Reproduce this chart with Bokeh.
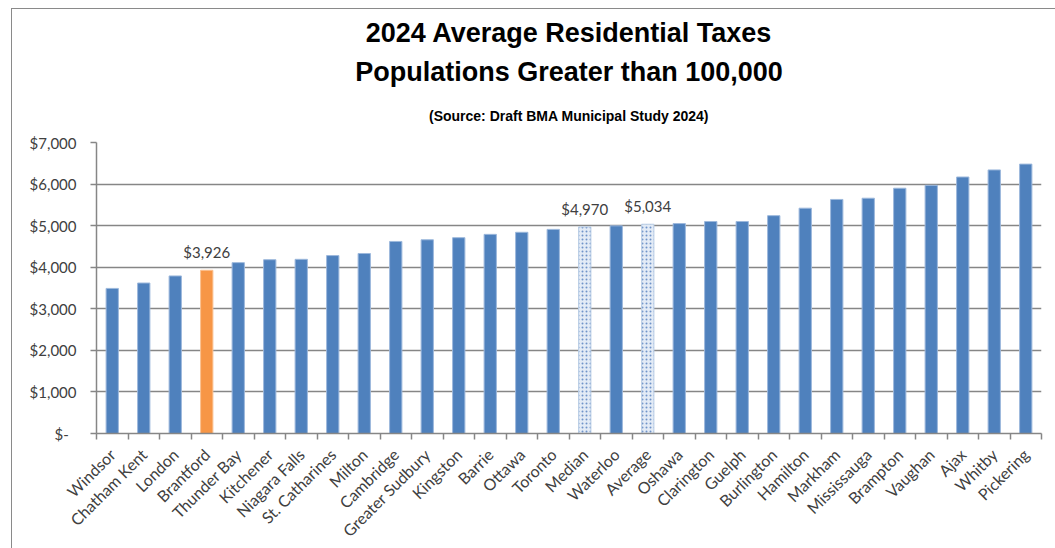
import math
from bokeh.plotting import figure
from bokeh.models import (ColumnDataSource, Range1d, LinearAxis, FixedTicker,
                          NumeralTickFormatter, Title)
from bokeh.embed import file_html
from bokeh.resources import INLINE

# ---- data ----
cities = ["Windsor", "Chatham Kent", "London", "Brantford", "Thunder Bay", "Kitchener",
          "Niagara Falls", "St. Catharines", "Milton", "Cambridge", "Greater Sudbury",
          "Kingston", "Barrie", "Ottawa", "Toronto", "Median", "Waterloo", "Average",
          "Oshawa", "Clarington", "Guelph", "Burlington", "Hamilton", "Markham",
          "Mississauga", "Brampton", "Vaughan", "Ajax", "Whitby", "Pickering"]
taxes = [3490, 3620, 3790, 3926, 4110, 4180, 4190, 4280, 4330, 4620, 4660,
         4710, 4790, 4840, 4910, 4970, 4995, 5034,
         5050, 5100, 5100, 5240, 5420, 5630,
         5660, 5900, 5970, 6170, 6340, 6480]
highlight = ["Brantford"]
benchmarks = ["Median", "Average"]
labelled = ["Brantford", "Median", "Average"]
y_ticks = [0, 1000, 2000, 3000, 4000, 5000, 6000, 7000]

title1 = "2024 Average Residential Taxes"
title2 = "Populations Greater than 100,000"
title3 = "(Source: Draft BMA Municipal Study 2024)"

TITLE_FONT = "Liberation Sans"
LABEL_FONT = "Lato"
GRID = "#868686"
TXT = "#404040"

n = len(cities)
centers = [i + 0.5 for i in range(n)]

def subset(names):
    xs = [x for x, c in zip(centers, cities) if c in names]
    ys = [t for c, t in zip(cities, taxes) if c in names]
    return ColumnDataSource(dict(x=xs, top=ys))

normal = [c for c in cities if c not in highlight and c not in benchmarks]

p = figure(width=1044, height=540, x_range=Range1d(0, n), y_range=Range1d(0, 7000),
           output_backend="svg", toolbar_location=None, title=None,
           min_border_left=84, min_border_right=15, min_border_bottom=114, min_border_top=0,
           margin=(8, 0, 0, 11))
p.styles = {"border-left": "1.5px solid #8a8a8a", "border-top": "1.5px solid #8a8a8a"}
p.outline_line_color = None
p.background_fill_color = "white"
p.border_fill_color = "white"

# titles (first added = closest to plot)
p.add_layout(Title(text=title3, align="center", text_font=TITLE_FONT, text_font_size="14px",
                   text_font_style="bold", text_color="black", standoff=38), "above")
p.add_layout(Title(text=title2, align="center", text_font=TITLE_FONT, text_font_size="27px",
                   text_font_style="bold", text_color="black", standoff=0), "above")
p.add_layout(Title(text=title1, align="center", text_font=TITLE_FONT, text_font_size="27px",
                   text_font_style="bold", text_color="black", standoff=13), "above")

# bars
p.vbar(x="x", top="top", source=subset(normal), width=0.39, fill_color="#4F81BD",
       line_color="#9cb8dc", line_width=1)
p.vbar(x="x", top="top", source=subset(highlight), width=0.39, fill_color="#F79646",
       line_color="#fbc08f", line_width=1)
p.vbar(x="x", top="top", source=subset(benchmarks), width=0.39, fill_color="#e3ebf6",
       hatch_pattern="dot", hatch_color="#6f93c8", hatch_scale=4, hatch_weight=1.5,
       line_color="#b9cde5", line_width=1)

# data labels
lab_x = [x for x, c in zip(centers, cities) if c in labelled]
lab_y = [t for c, t in zip(cities, taxes) if c in labelled]
lab_src = ColumnDataSource(dict(x=lab_x, y=lab_y, t=["${:,}".format(v) for v in lab_y]))
p.text(x="x", y="y", text="t", source=lab_src, text_align="center", text_baseline="bottom",
       y_offset=-9, text_font_size="15px", text_color=TXT, text_font={"value": LABEL_FONT})

# grid
p.xgrid.grid_line_color = None
p.ygrid.grid_line_color = GRID
p.ygrid.grid_line_width = 1.5
p.ygrid.ticker = FixedTicker(ticks=y_ticks)

# y axis
ya = p.yaxis[0]
ya.ticker = FixedTicker(ticks=y_ticks)
ya.formatter = NumeralTickFormatter(format="$0,0")
ya.major_label_overrides = {0: "$-\u00a0\u00a0"}
ya.axis_line_color = GRID
ya.axis_line_width = 1.5
ya.major_tick_line_color = GRID
ya.major_tick_line_width = 1.5
ya.major_tick_out = 6
ya.major_tick_in = 0
ya.minor_tick_line_color = None
ya.major_label_text_font = LABEL_FONT
ya.major_label_text_font_size = "15px"
ya.major_label_text_color = TXT
ya.major_label_standoff = 14

# x axis: tick marks at category boundaries, labels at category centres
xa = p.below[0]
tick_axis = LinearAxis(ticker=FixedTicker(ticks=list(range(n + 1))),
                       major_label_text_font_size="1px", major_label_text_color=None,
                       major_label_standoff=0,
                       axis_line_color=GRID, axis_line_width=1.5,
                       major_tick_line_color=GRID, major_tick_line_width=1.5,
                       major_tick_out=6, major_tick_in=0, minor_tick_line_color=None)
xa.ticker = FixedTicker(ticks=centers)
xa.major_label_overrides = {x: c for x, c in zip(centers, cities)}
xa.axis_line_color = None
xa.major_tick_line_color = None
xa.minor_tick_line_color = None
xa.major_label_orientation = math.pi / 4
xa.major_label_text_font = LABEL_FONT
xa.major_label_text_font_size = "16px"
xa.major_label_text_color = TXT
xa.major_label_standoff = 6
p.below = [tick_axis, xa]

open("out.html", "w").write(file_html(p, INLINE))
